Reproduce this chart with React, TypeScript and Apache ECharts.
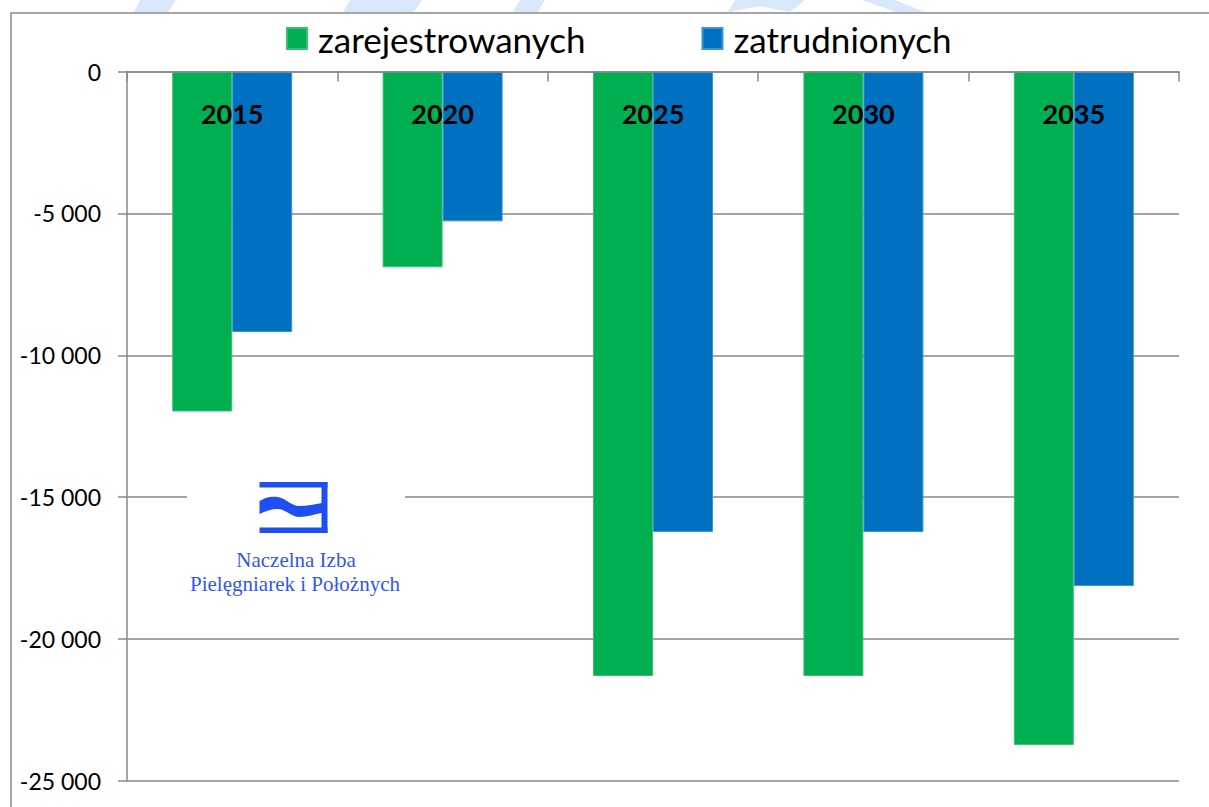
import React, { useEffect, useRef } from "react";
import * as echarts from "echarts";

const categories = ["2015", "2020", "2025", "2030", "2035"];
const seriesNames = ["zarejestrowanych", "zatrudnionych"];
const registeredValues = [-11980, -6900, -21300, -21300, -23730];
const employedValues = [-9180, -5280, -16230, -16230, -18130];
const yMin = -25000;
const yMax = 0;
const yInterval = 5000;
const logoLines = ["Naczelna Izba", "Pielęgniarek i Położnych"];

const WAVE_PATH =
  "M0,19 C6,15 12,14 18,15 C26,16 32,24 40,24 C48,24 55,22 62.5,21 L62.5,31 C55,32 48,35 40,35 C32,35 26,27 18,27 C12,27 6,29 0,32 Z";

let shapeRegistered = false;
function ensureShape() {
  if (shapeRegistered) return;
  echarts.graphic.registerShape("logo", echarts.graphic.extendPath(WAVE_PATH, {}));
  shapeRegistered = true;
}

function fmt(v: number): string {
  const s = Math.abs(v)
    .toString()
    .replace(/\B(?=(\d{3})+(?!\d))/g, " ");
  return v < 0 ? "-" + s : s;
}

const GRAY = "#898989";
const FONT = "Lato";
const LOGO_BLUE = "#1f4ff2";
const WM = "#d9e7fb";

export default function App() {
  const ref = useRef<HTMLDivElement>(null);
  useEffect(() => {
    if (!ref.current) return;
    ensureShape();
    const chart = echarts.init(ref.current, undefined, { renderer: "svg" });
    chart.setOption({
      animation: false,
      backgroundColor: "#ffffff",
      textStyle: { fontFamily: FONT },
      legend: {
        data: seriesNames,
        left: 286,
        top: 21,
        padding: 0,
        itemWidth: 20,
        itemHeight: 21,
        itemGap: 116,
        icon: "rect",
        textStyle: {
          fontFamily: FONT,
          fontSize: 35,
          color: "#000",
          padding: [0, 0, 0, 6],
        },
      },
      grid: {
        left: 127,
        right: 30,
        top: 71.5,
        bottom: 26,
        containLabel: false,
        outerBoundsMode: "none",
      },
      xAxis: {
        type: "category",
        data: categories,
        position: "top",
        z: 10,
        axisLine: { show: true, onZero: false, lineStyle: { color: GRAY, width: 1.5 } },
        axisTick: { show: true, inside: true, length: 10, alignWithLabel: false, lineStyle: { color: GRAY, width: 1.5 } },
        axisLabel: {
          inside: true,
          margin: 28,
          fontFamily: FONT,
          fontWeight: "bold",
          fontSize: 27,
          color: "#000",
        },
        splitLine: { show: false },
      },
      yAxis: {
        type: "value",
        min: yMin,
        max: yMax,
        interval: yInterval,
        axisLine: { show: true, lineStyle: { color: GRAY, width: 1.5 } },
        axisTick: { show: true, length: 9, lineStyle: { color: GRAY, width: 1.5 } },
        axisLabel: {
          margin: 26,
          fontFamily: FONT,
          fontSize: 23,
          color: "#000",
          formatter: (v: number) => fmt(v),
        },
        splitLine: { show: true, lineStyle: { color: GRAY, width: 1.5 } },
      },
      series: [
        {
          name: seriesNames[0],
          type: "bar",
          data: registeredValues,
          barWidth: 60,
          barGap: "0%",
          itemStyle: { color: "#00b050", borderColor: "#3dbf72", borderWidth: 1 },
        },
        {
          name: seriesNames[1],
          type: "bar",
          data: employedValues,
          barWidth: 60,
          barGap: "0%",
          itemStyle: { color: "#0070c0", borderColor: "#3a92d8", borderWidth: 1 },
        },
      ],
      graphic: [
        {
          type: "rect",
          z: -1,
          silent: true,
          shape: { x: 11, y: 13, width: 1400, height: 1000 },
          style: { fill: "none", stroke: GRAY, lineWidth: 1.5 },
        },
        {
          type: "polygon",
          silent: true,
          shape: { points: [[140, 0], [176, 0], [168, 12], [134, 12]] },
          style: { fill: WM },
        },
        {
          type: "polygon",
          silent: true,
          shape: { points: [[350, 0], [422, 0], [414, 12], [343, 12]] },
          style: { fill: WM },
        },
        {
          type: "polygon",
          silent: true,
          shape: { points: [[520, 0], [545, 0], [538, 12], [513, 12]] },
          style: { fill: WM },
        },
        {
          type: "polygon",
          silent: true,
          shape: { points: [[735, 0], [805, 0], [790, 12], [760, 6], [728, 12]] },
          style: { fill: WM },
        },
        {
          type: "polygon",
          silent: true,
          shape: { points: [[862, 0], [895, 0], [925, 12], [895, 12]] },
          style: { fill: WM },
        },
        {
          type: "rect",
          z: 50,
          silent: true,
          shape: { x: 187, y: 465, width: 218, height: 140 },
          style: { fill: "#ffffff" },
        },
        {
          type: "rect",
          z: 51,
          silent: true,
          shape: { x: 259.5, y: 482, width: 68, height: 5.5 },
          style: { fill: LOGO_BLUE },
        },
        {
          type: "rect",
          z: 51,
          silent: true,
          shape: { x: 321.5, y: 482, width: 6, height: 51 },
          style: { fill: LOGO_BLUE },
        },
        {
          type: "rect",
          z: 51,
          silent: true,
          shape: { x: 259.5, y: 527.5, width: 68, height: 5.5 },
          style: { fill: LOGO_BLUE },
        },
        {
          type: "logo",
          z: 51,
          silent: true,
          x: 259.5,
          y: 482,
          scaleX: 1,
          scaleY: 1,
          style: { fill: LOGO_BLUE },
        },
        {
          type: "text",
          z: 51,
          silent: true,
          x: 296,
          y: 560,
          style: {
            text: logoLines[0],
            fontFamily: "Liberation Serif",
            fontSize: 21,
            fill: "#3456ee",
            align: "center",
            verticalAlign: "middle",
          },
        },
        {
          type: "text",
          z: 51,
          silent: true,
          x: 295,
          y: 584,
          style: {
            text: logoLines[1],
            fontFamily: "Liberation Serif",
            fontSize: 21,
            fill: "#3456ee",
            align: "center",
            verticalAlign: "middle",
          },
        },
      ],
    });
    return () => chart.dispose();
  }, []);
  return (
    <div
      ref={ref}
      style={{ position: "fixed", left: 0, top: 0, width: 1209, height: 807 }}
    />
  );
}
